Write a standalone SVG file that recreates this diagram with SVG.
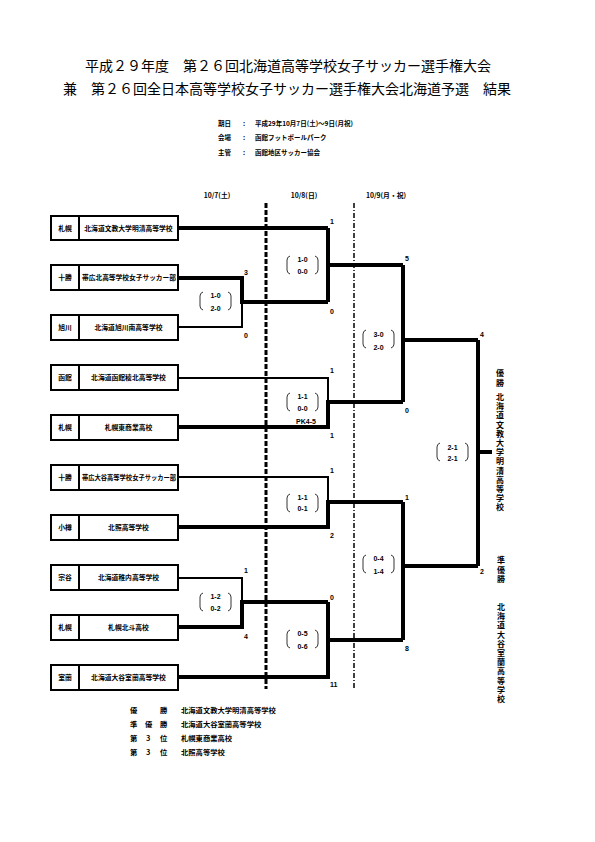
<svg xmlns="http://www.w3.org/2000/svg" width="595" height="842" viewBox="0 0 595 842">
<style>
.t{font-family:"Noto Sans CJK JP","Noto Sans CJK SC",sans-serif;fill:#000}
.title{font-size:14px}
.b{font-weight:bold}
.sm{font-size:6.8px;font-weight:bold}
.info{font-size:6.5px;font-weight:bold}
.num{font-family:"Liberation Sans",Arial,sans-serif;font-size:7px;font-weight:bold;fill:#000}
.vt{font-size:8px;font-weight:bold}
.box{fill:#fff;stroke:#000;stroke-width:2}
.thick{fill:none;stroke:#000;stroke-width:4}
.thin{fill:none;stroke:#000;stroke-width:2}
.br{fill:none;stroke:#000;stroke-width:0.8}
</style>
<rect width="595" height="842" fill="#fff"/>
<g id="title">
<text class="t title" x="288" y="71" text-anchor="middle">平成２９年度　第２６回北海道高等学校女子サッカー選手権大会</text>
<text class="t title" x="287" y="94" text-anchor="middle">兼　第２６回全日本高等学校女子サッカー選手権大会北海道予選　結果</text>
</g>
<g id="info" class="t info">
<text x="218" y="126">期日</text><text x="243" y="126">:</text><text x="255" y="126">平成29年10月7日(土)～9日(月祝)</text>
<text x="218" y="140">会場</text><text x="243" y="140">:</text><text x="255" y="140">函館フットボールパーク</text>
<text x="218" y="155">主管</text><text x="243" y="155">:</text><text x="255" y="155">函館地区サッカー協会</text>
</g>
<g id="dates" class="t sm" text-anchor="middle">
<text x="217" y="198">10/7(土)</text>
<text x="304" y="198">10/8(日)</text>
<text x="386" y="198">10/9(月・祝)</text>
</g>
<g id="dividers">
<line x1="266" y1="203" x2="266" y2="689" stroke="#000" stroke-width="3" stroke-dasharray="5,2"/>
<line x1="354" y1="203" x2="354" y2="689" stroke="#000" stroke-width="1.5" stroke-dasharray="5,2,1,2"/>
</g>
<g id="connectors">
<path class="thick" d="M178,228 H328"/>
<path class="thick" d="M178,278 H242 V302 H328"/>
<path class="thin" d="M178,327 H242 V302"/>
<path class="thick" d="M328,228 V302 M328,265 H403"/>
<path class="thin" d="M178,378 H328 V402"/>
<path class="thick" d="M178,427 H328 V402 H403"/>
<path class="thick" d="M403,265 V402 M403,340 H478"/>
<path class="thin" d="M178,477 H328 V502"/>
<path class="thick" d="M178,527 H328 V502 H403"/>
<path class="thin" d="M178,578 H242 V602"/>
<path class="thick" d="M178,627 H242 V602 H328"/>
<path class="thick" d="M178,677 H328 V602 M328,640 H403"/>
<path class="thick" d="M403,502 V640 M403,566 H478"/>
<path class="thick" d="M478,340 V566 M478,452 H492"/>
</g>
<g id="team1"><rect class="box" x="51" y="216" width="127" height="24"/><line x1="79" y1="216" x2="79" y2="240" stroke="#000" stroke-width="2"/><text class="t sm" x="65" y="230.5" text-anchor="middle">札幌</text><text class="t sm" x="128.5" y="230.5" text-anchor="middle">北海道文教大学明清高等学校</text></g>
<g id="team2"><rect class="box" x="51" y="265" width="127" height="25"/><line x1="79" y1="265" x2="79" y2="290" stroke="#000" stroke-width="2"/><text class="t sm" x="65" y="280" text-anchor="middle">十勝</text><text class="t sm" x="82" y="280" textLength="94" lengthAdjust="spacingAndGlyphs">帯広北高等学校女子サッカー部</text></g>
<g id="team3"><rect class="box" x="51" y="315" width="127" height="25"/><line x1="79" y1="315" x2="79" y2="340" stroke="#000" stroke-width="2"/><text class="t sm" x="65" y="330" text-anchor="middle">旭川</text><text class="t sm" x="128.5" y="330" text-anchor="middle">北海道旭川南高等学校</text></g>
<g id="team4"><rect class="box" x="51" y="365" width="127" height="25"/><line x1="79" y1="365" x2="79" y2="390" stroke="#000" stroke-width="2"/><text class="t sm" x="65" y="380" text-anchor="middle">函館</text><text class="t sm" x="128.5" y="380" text-anchor="middle">北海道函館稜北高等学校</text></g>
<g id="team5"><rect class="box" x="51" y="415" width="127" height="25"/><line x1="79" y1="415" x2="79" y2="440" stroke="#000" stroke-width="2"/><text class="t sm" x="65" y="430" text-anchor="middle">札幌</text><text class="t sm" x="128.5" y="430" text-anchor="middle">札幌東商業高校</text></g>
<g id="team6"><rect class="box" x="51" y="465" width="127" height="25"/><line x1="79" y1="465" x2="79" y2="490" stroke="#000" stroke-width="2"/><text class="t sm" x="65" y="480" text-anchor="middle">十勝</text><text class="t sm" x="82" y="480" textLength="94" lengthAdjust="spacingAndGlyphs">帯広大谷高等学校女子サッカー部</text></g>
<g id="team7"><rect class="box" x="51" y="515" width="127" height="25"/><line x1="79" y1="515" x2="79" y2="540" stroke="#000" stroke-width="2"/><text class="t sm" x="65" y="530" text-anchor="middle">小樽</text><text class="t sm" x="128.5" y="530" text-anchor="middle">北照高等学校</text></g>
<g id="team8"><rect class="box" x="51" y="565" width="127" height="25"/><line x1="79" y1="565" x2="79" y2="590" stroke="#000" stroke-width="2"/><text class="t sm" x="65" y="580" text-anchor="middle">宗谷</text><text class="t sm" x="128.5" y="580" text-anchor="middle">北海道稚内高等学校</text></g>
<g id="team9"><rect class="box" x="51" y="615" width="127" height="25"/><line x1="79" y1="615" x2="79" y2="640" stroke="#000" stroke-width="2"/><text class="t sm" x="65" y="630" text-anchor="middle">札幌</text><text class="t sm" x="128.5" y="630" text-anchor="middle">札幌北斗高校</text></g>
<g id="team10"><rect class="box" x="51" y="665" width="127" height="25"/><line x1="79" y1="665" x2="79" y2="690" stroke="#000" stroke-width="2"/><text class="t sm" x="65" y="680" text-anchor="middle">室蘭</text><text class="t sm" x="128.5" y="680" text-anchor="middle">北海道大谷室蘭高等学校</text></g>
<g id="scores" class="num">
<text x="244" y="275">3</text><text x="244" y="338">0</text>
<text x="330" y="224">1</text><text x="330" y="314">0</text>
<text x="405" y="261">5</text><text x="405" y="413">0</text>
<text x="330" y="373">1</text><text x="330" y="438">1</text>
<text x="330" y="473">1</text><text x="330" y="538">2</text>
<text x="405" y="500">1</text><text x="405" y="651">8</text>
<text x="244" y="573">1</text><text x="244" y="639">4</text>
<text x="330" y="600">0</text><text x="330" y="687">11</text>
<text x="480" y="337">4</text><text x="480" y="574">2</text>
</g>
<defs>
<path id="bk" class="br" d="M3,0 Q0,1 0,4 V14 Q0,17 3,18 M28,0 Q31,1 31,4 V14 Q31,17 28,18"/>
</defs>
<g id="matchscores" class="num" text-anchor="middle">
<use href="#bk" x="200" y="292"/><text x="215.5" y="298">1-0</text><text x="215.5" y="311">2-0</text>
<use href="#bk" x="287" y="256"/><text x="302.5" y="262">1-0</text><text x="302.5" y="274">0-0</text>
<use href="#bk" x="287" y="393"/><text x="302.5" y="399">1-1</text><text x="302.5" y="411">0-0</text><text x="306" y="424">PK4-5</text>
<use href="#bk" x="287" y="494"/><text x="302.5" y="500">1-1</text><text x="302.5" y="511">0-1</text>
<use href="#bk" x="200" y="593"/><text x="215.5" y="599">1-2</text><text x="215.5" y="611">0-2</text>
<use href="#bk" x="287" y="630"/><text x="302.5" y="636">0-5</text><text x="302.5" y="649">0-6</text>
<use href="#bk" x="363" y="330"/><text x="378.5" y="337">3-0</text><text x="378.5" y="350">2-0</text>
<use href="#bk" x="363" y="555"/><text x="378.5" y="561">0-4</text><text x="378.5" y="574">1-4</text>
<use href="#bk" x="437" y="443"/><text x="452.5" y="450">2-1</text><text x="452.5" y="461">2-1</text>
</g>
<g id="champion" class="t vt" text-anchor="middle">
<text x="500 500" y="376 386">優勝</text>
<text x="500 500 500 500 500 500 500 500 500 500 500 500 500" y="400 409.2 418.4 427.6 436.8 446 455.2 464.4 473.6 482.8 492 501.2 510.4">北海道文教大学明清高等学校</text>
<text x="501 501 501" y="563 572.5 582">準優勝</text>
<text x="501 501 501 501 501 501 501 501 501 501 501" y="610 619.2 628.4 637.6 646.8 656 665.2 674.4 683.6 692.8 702">北海道大谷室蘭高等学校</text>
</g>
<g id="results" class="t" style="font-size:7.3px;font-weight:bold">
<text x="130 160" y="713">優勝</text><text x="181" y="713">北海道文教大学明清高等学校</text>
<text x="130 145 160" y="727">準優勝</text><text x="181" y="727">北海道大谷室蘭高等学校</text>
<text x="130 146 160" y="741">第3位</text><text x="181" y="741">札幌東商業高校</text>
<text x="130 146 160" y="755">第3位</text><text x="181" y="755">北照高等学校</text>
</g>
</svg>
